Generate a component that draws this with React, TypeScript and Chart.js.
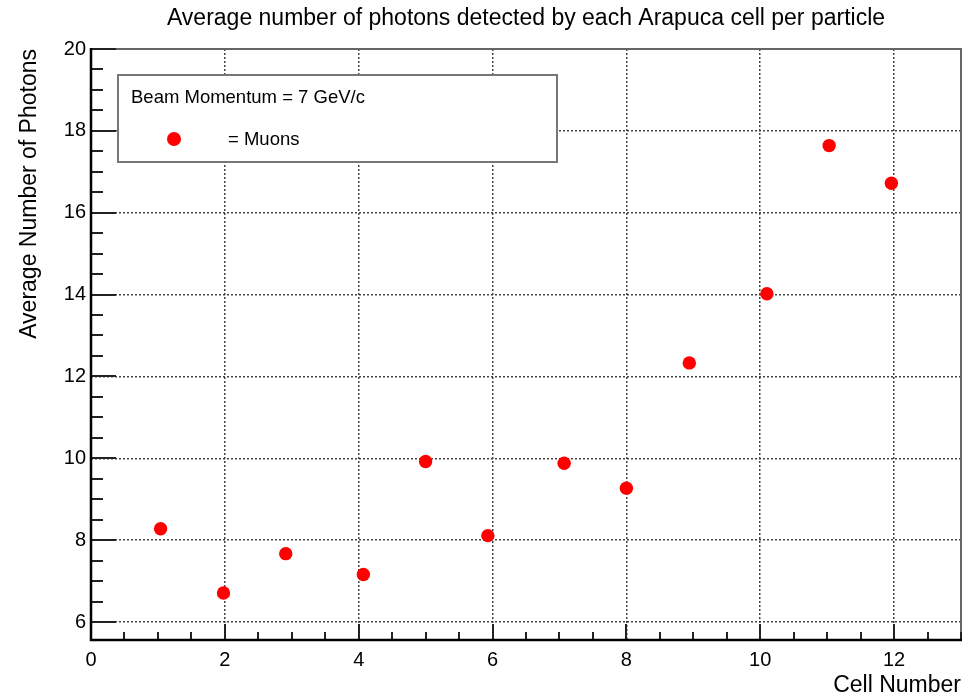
import React, { useEffect, useRef } from "react";
import { Chart, registerables } from "chart.js";

Chart.register(...registerables);

// ---- data ----
const cellNumbers = [1.04, 1.98, 2.91, 4.07, 5.0, 5.93, 7.07, 8.0, 8.94, 10.1, 11.03, 11.96];
const avgPhotons = [8.28, 6.71, 7.67, 7.16, 9.92, 8.11, 9.88, 9.27, 12.33, 14.02, 17.64, 16.72];
const xRange = [0, 13];
const yRange = [5.56, 20];
const majorStep = 2;
const minorStep = 0.5;
const titleText = "Average number of photons detected by each Arapuca cell per particle";
const xTitle = "Cell Number";
const yTitle = "Average Number of Photons";
const legendHeader = "Beam Momentum = 7 GeV/c";
const legendLabel = "= Muons";

const FONT = "'Liberation Sans', Arial, Helvetica, sans-serif";

const rootStyle = {
  id: "rootStyle",
  beforeDatasetsDraw(chart: any) {
    const { ctx, chartArea: a, scales } = chart;
    const xs = scales.x;
    const ys = scales.y;
    ctx.save();
    // frame (top/right)
    ctx.strokeStyle = "#666";
    ctx.lineWidth = 2;
    ctx.beginPath();
    ctx.moveTo(a.left, a.top);
    ctx.lineTo(a.right, a.top);
    ctx.lineTo(a.right, a.bottom);
    ctx.stroke();
    // inward ticks
    ctx.strokeStyle = "#222";
    ctx.lineWidth = 2;
    for (let v = xRange[0]; v <= xRange[1] + 1e-9; v += minorStep) {
      const px = Math.round(xs.getPixelForValue(v));
      const major = Math.abs(v / majorStep - Math.round(v / majorStep)) < 1e-6;
      const len = major ? 16 : 8;
      ctx.beginPath();
      ctx.moveTo(px, a.bottom);
      ctx.lineTo(px, a.bottom - len);
      ctx.stroke();
    }
    const yStart = Math.ceil(yRange[0] / minorStep) * minorStep;
    for (let v = yStart; v <= yRange[1] + 1e-9; v += minorStep) {
      const py = Math.round(ys.getPixelForValue(v));
      const major = Math.abs(v / majorStep - Math.round(v / majorStep)) < 1e-6;
      const len = major ? 25 : 12;
      ctx.beginPath();
      ctx.moveTo(a.left, py);
      ctx.lineTo(a.left + len, py);
      ctx.stroke();
    }
    // axes
    ctx.strokeStyle = "#000";
    ctx.lineWidth = 2.5;
    ctx.beginPath();
    ctx.moveTo(a.left, a.top - 1);
    ctx.lineTo(a.left, a.bottom);
    ctx.lineTo(a.right + 1, a.bottom);
    ctx.stroke();
    ctx.restore();
  },
  afterDraw(chart: any) {
    const { ctx, chartArea: a } = chart;
    ctx.save();
    // title
    ctx.fillStyle = "#000";
    ctx.font = `23px ${FONT}`;
    ctx.textAlign = "center";
    ctx.textBaseline = "middle";
    ctx.fillText(titleText, (a.left + a.right) / 2, 19);
    // legend box
    const bx = 118, by = 75, bw = 439, bh = 87;
    ctx.fillStyle = "#fff";
    ctx.fillRect(bx, by, bw, bh);
    ctx.strokeStyle = "#777";
    ctx.lineWidth = 2;
    ctx.strokeRect(bx, by, bw, bh);
    ctx.fillStyle = "#000";
    ctx.font = `18.5px ${FONT}`;
    ctx.textAlign = "left";
    ctx.textBaseline = "alphabetic";
    ctx.fillText(legendHeader, 131, 103);
    ctx.fillText(legendLabel, 228, 145);
    ctx.fillStyle = "#ff0000";
    ctx.beginPath();
    ctx.arc(174, 139, 7, 0, Math.PI * 2);
    ctx.fill();
    ctx.restore();
  },
};

export default function App() {
  const ref = useRef<HTMLCanvasElement | null>(null);
  useEffect(() => {
    document.body.style.margin = "0";
    const canvas = ref.current;
    if (!canvas) return;
    const chart = new Chart(canvas, {
      type: "scatter",
      data: {
        datasets: [
          {
            label: "Muons",
            data: cellNumbers.map((x, i) => ({ x, y: avgPhotons[i] })),
            backgroundColor: "#ff0000",
            borderColor: "#ff0000",
            pointRadius: 6.7,
            pointBorderWidth: 0,
            pointHoverRadius: 6.7,
          },
        ],
      },
      options: {
        animation: false,
        responsive: false,
        events: [],
        layout: { padding: { left: 0, top: 49, right: 18, bottom: 0 } },
        plugins: {
          legend: { display: false },
          title: { display: false },
          tooltip: { enabled: false },
        },
        scales: {
          x: {
            type: "linear",
            position: "bottom",
            min: xRange[0],
            max: xRange[1],
            afterFit: (s: any) => {
              s.height = 57;
            },
            ticks: {
              stepSize: majorStep,
              includeBounds: false,
              padding: 8,
              color: "#000",
              font: { family: FONT, size: 20 },
              maxRotation: 0,
            },
            grid: { color: "#444", lineWidth: 1.5, drawTicks: false },
            border: { display: false, dash: [2, 2] },
            title: {
              display: true,
              text: xTitle,
              align: "end",
              color: "#000",
              font: { family: FONT, size: 23, lineHeight: 1 },
              padding: { top: 0, bottom: 0 },
            },
          },
          y: {
            type: "linear",
            min: yRange[0],
            max: yRange[1],
            afterFit: (s: any) => {
              s.width = 91;
            },
            ticks: {
              stepSize: majorStep,
              includeBounds: false,
              padding: 5,
              color: "#000",
              font: { family: FONT, size: 20 },
            },
            grid: { color: "#444", lineWidth: 1.5, drawTicks: false },
            border: { display: false, dash: [2, 2] },
            title: {
              display: true,
              text: yTitle,
              align: "end",
              color: "#000",
              font: { family: FONT, size: 23, lineHeight: 1 },
              padding: { top: 18, bottom: 0 },
            },
          },
        },
      },
      plugins: [rootStyle],
    } as any);
    return () => chart.destroy();
  }, []);
  return (
    <div style={{ position: "absolute", left: 0, top: 0, width: 979, height: 697, background: "#fff" }}>
      <canvas ref={ref} width={979} height={697} style={{ display: "block" }} />
    </div>
  );
}
